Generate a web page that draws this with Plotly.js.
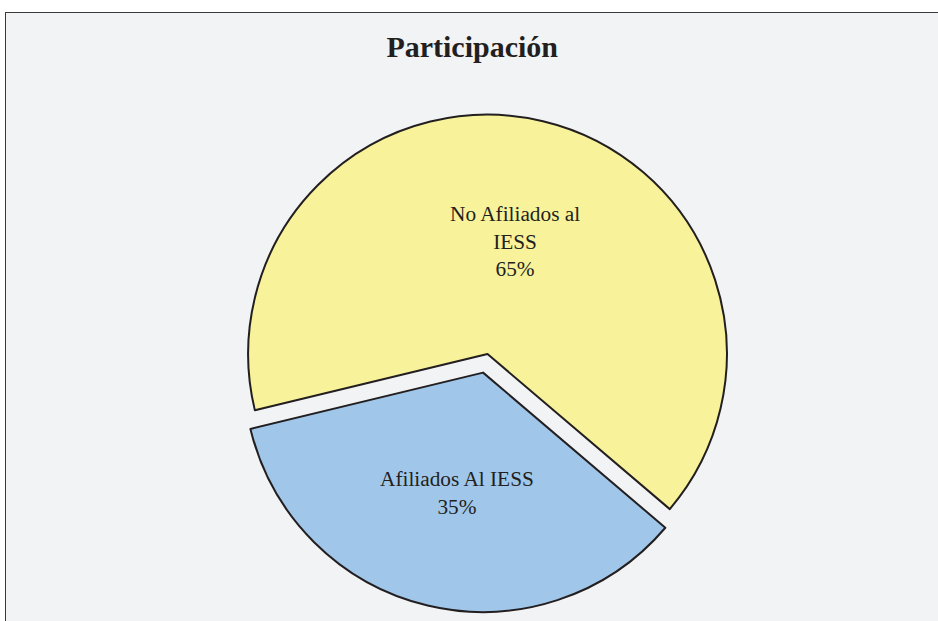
<!DOCTYPE html>
<html>
<head>
<meta charset="utf-8">
<script src="https://cdn.plot.ly/plotly-3.0.1.min.js"></script>
<style>
  html, body { margin: 0; padding: 0; background: #ffffff; width: 938px; height: 621px; overflow: hidden; }
  #frame { position: absolute; left: 5px; top: 12px; width: 940px; height: 620px;
           border-left: 1px solid #3a3a3a; border-top: 1px solid #3a3a3a; background: #f2f3f5; overflow: hidden; }
  #chart { position: absolute; left: 0; top: 0; width: 940px; height: 620px; }
</style>
</head>
<body>
<div id="frame"><div id="chart"></div></div>
<script>
// ---- data ----
var labels = ["No Afiliados al<br>IESS", "Afiliados Al IESS"];
var values = [65, 35];
var colors = ["#f8f39a", "#a0c7ea"];
var pulls = [0, 0.08];
var titleText = "Participación";

// ---- layout helpers (plot area in px within the chart div) ----
var L = 222.5, R = 199.5, T = 82, B = 20;
var W = 940, H = 620;
var pw = W - L - R, ph = H - T - B;
function px2paper(x, y) { return [(x - L) / pw, (H - B - y) / ph]; }

var total = values.reduce(function (a, b) { return a + b; }, 0);
var labelPos = [px2paper(509, 228), px2paper(451, 480)];
var annotations = labels.map(function (lab, i) {
  return {
    text: lab + "<br>" + Math.round(values[i] / total * 100) + "%",
    x: labelPos[i][0], y: labelPos[i][1], xref: "paper", yref: "paper",
    xanchor: "center", yanchor: "middle", showarrow: false, align: "center",
    font: { family: "Liberation Serif, Times New Roman, serif", size: 21.3, color: "#231f20" }
  };
});

var trace = {
  type: "pie",
  labels: labels,
  values: values,
  sort: false,
  direction: "clockwise",
  rotation: -103.6,
  pull: pulls,
  marker: { colors: colors, line: { color: "#231f20", width: 2 } },
  textinfo: "none",
  hoverinfo: "skip",
  showlegend: false
};

var layout = {
  width: W, height: H,
  margin: { l: L, r: R, t: T, b: B, pad: 0 },
  paper_bgcolor: "#f2f3f5",
  plot_bgcolor: "#f2f3f5",
  showlegend: false,
  title: {
    text: "<b>" + titleText + "</b>",
    x: 0.496, xref: "container", xanchor: "center",
    y: 1 - 33 / H, yref: "container", yanchor: "middle",
    font: { family: "Liberation Serif, Times New Roman, serif", size: 30, color: "#231f20" }
  },
  annotations: annotations
};

Plotly.newPlot("chart", [trace], layout, { displayModeBar: false, staticPlot: true });
</script>
</body>
</html>
